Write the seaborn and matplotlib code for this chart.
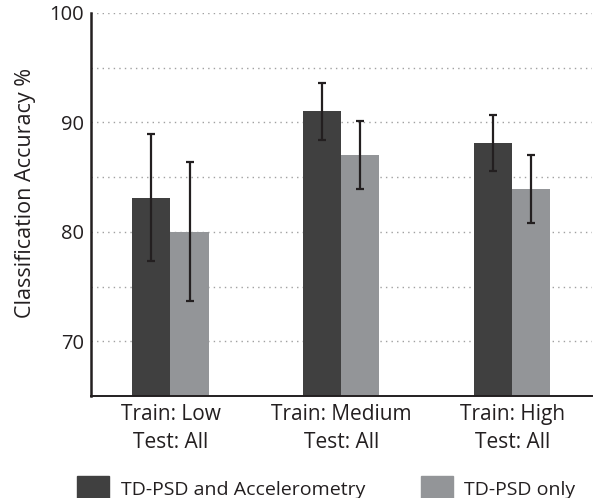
import matplotlib
matplotlib.use("Agg")
import matplotlib.pyplot as plt
import seaborn as sns
import pandas as pd
import numpy as np

# Classification accuracy per training condition
conditions = ["Train: Low\nTest: All", "Train: Medium\nTest: All", "Train: High\nTest: All"]
series = ["TD-PSD and Accelerometry", "TD-PSD only"]
acc_combined = [83.1, 91.0, 88.1]
acc_psd_only = [80.0, 87.0, 83.9]
err_combined = [5.8, 2.6, 2.55]
err_psd_only = [6.35, 3.1, 3.1]
y_ticks = [70, 80, 90, 100]

colors = ["#404040", "#939598"]

df = pd.DataFrame({
    "condition": conditions * 2,
    "method": [series[0]] * 3 + [series[1]] * 3,
    "accuracy": acc_combined + acc_psd_only,
    "err": err_combined + err_psd_only,
})

sns.set_theme(style="white")
plt.rcParams["font.family"] = ["Open Sans", "DejaVu Sans"]

fig = plt.figure(figsize=(5.96, 4.98), dpi=100)
ax = fig.add_axes([0.1527, 0.2048, 0.8403, 0.7691])

sns.barplot(data=df, x="condition", y="accuracy", hue="method",
            palette=colors, errorbar=None, width=0.445, saturation=1,
            linewidth=0, ax=ax, zorder=2, legend=False)

# error bars centered on each drawn bar
bars = [p for p in ax.patches if p.get_height() > 0]
for bar, (_, row) in zip(bars, df.iterrows()):
    cx = bar.get_x() + bar.get_width() / 2
    ax.errorbar(cx, row["accuracy"], yerr=row["err"], fmt="none",
                ecolor="#231f20", elinewidth=1.6, capsize=3, capthick=1.6,
                zorder=3)

ax.set_ylim(65, 100)
ax.set_xlim(-0.465, 2.465)
ax.set_yticks(y_ticks)
ax.set_yticks(np.arange(70, 101, 5), minor=True)
ax.grid(axis="y", which="both", linestyle=(0, (1, 3)), color="#a0a0a0",
        linewidth=1.0, zorder=0)
ax.set_axisbelow(True)

ax.spines["top"].set_visible(False)
ax.spines["right"].set_visible(False)
ax.spines["left"].set_linewidth(1.8)
ax.spines["left"].set_color("#231f20")
ax.spines["bottom"].set_linewidth(1.4)
ax.spines["bottom"].set_color("#231f20")
ax.tick_params(axis="both", which="both", length=0, labelsize=14.5,
               colors="#231f20", pad=5)
ax.tick_params(axis="x", pad=6)
for lab in ax.get_xticklabels():
    lab.set_fontsize(15)
    lab.set_linespacing(1.4)

ax.set_xlabel("")
ax.set_ylabel("Classification Accuracy %", fontsize=15.5, color="#231f20")
ax.yaxis.set_label_coords(-0.11, 0.53)

handles = [plt.Rectangle((0, 0), 1, 1, color=c) for c in colors]
fig.legend(handles, series, loc="lower left", bbox_to_anchor=(0.10, -0.042),
           ncol=2, frameon=False, fontsize=14, handlelength=1.65,
           handleheight=1.6, columnspacing=2.85, handletextpad=0.6,
           labelcolor="#231f20")

fig.savefig("out.png", dpi=100)
